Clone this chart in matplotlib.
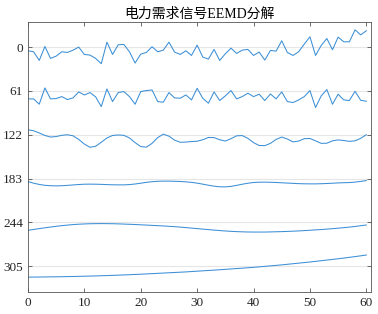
import matplotlib.pyplot as plt
import numpy as np

plt.rcParams['font.family'] = ['Liberation Serif', 'Noto Sans CJK SC']

# time index
t = np.arange(61)

# offsets of each component on the y axis
offsets = [0, 61, 122, 183, 244, 305]

imf1 = [5.1, 6.5, 18.5, -0.9, 15.7, 12.5, 6.5, 7.4, 4.2, 0.0,
        10.2, 11.1, 15.7, 23.1, -6.9, 10.2, -3.2, -3.7, 6.5, 22.2,
        9.7, 7.4, -0.5, 6.5, 4.2, -6.9, 6.9, 10.2, 5.1, 11.6,
        -2.8, 13.9, 16.7, 3.2, 18.5, 9.3, 1.4, 8.8, 4.2, 3.2,
        11.6, 6.9, 18.1, 4.6, 5.6, -8.8, 7.4, 11.6, 6.5, -4.2,
        -14.4, 11.6, -2.3, -12.0, 3.7, -13.9, -7.4, -7.4, -24.1, -17.1,
        -22.7]
imf2 = [11.1, 11.1, 18.5, -4.2, 11.1, 10.6, 7.9, 12.0, 9.7, 1.4,
        5.6, 2.3, 8.3, 21.8, -2.8, 14.8, 2.3, 0.9, 7.9, 18.5,
        0.9, -0.5, -1.4, 14.8, 15.7, 2.3, 9.7, 10.2, 5.6, 12.5,
        -3.7, 10.2, 17.1, 1.4, 13.4, 6.9, -0.5, 11.1, 7.9, 3.2,
        7.9, 4.6, 13.4, 4.2, 11.1, 1.4, 14.8, 16.2, 12.5, 7.9,
        -0.5, 23.1, 6.9, -1.9, 18.5, 4.6, 12.5, 13.4, 0.5, 13.0,
        14.4]
imf3 = [-6.9, -5.5, -2.5, 1.0, 3.2, 2.5, 0.8, 0.0, 1.5, 6.5,
        13.0, 17.5, 16.0, 10.5, 4.5, 1.0, 0.3, 0.8, 4.5, 11.0,
        16.5, 17.3, 12.0, 4.0, -0.8, 2.0, 7.5, 10.5, 10.2, 9.5,
        9.0, 7.0, 3.8, 4.0, 7.0, 8.8, 5.5, 1.5, 1.2, 5.0,
        11.0, 15.0, 15.2, 12.0, 6.5, 3.2, 6.0, 10.0, 8.8, 5.5,
        5.2, 8.5, 12.0, 11.8, 8.5, 7.2, 8.0, 9.2, 8.5, 5.0,
        0.0]
imf4 = [4.2, 6.5, 8.2, 9.4, 10.0, 10.2, 10.0, 9.5, 8.9, 8.3,
        7.9, 7.8, 7.9, 8.1, 8.4, 8.7, 8.8, 8.8, 8.4, 7.6,
        6.5, 5.3, 4.4, 3.8, 3.6, 3.6, 3.8, 4.1, 4.6, 5.3,
        6.4, 7.8, 9.3, 10.6, 11.5, 11.6, 10.9, 9.5, 7.9, 6.5,
        5.5, 5.1, 5.0, 5.2, 5.5, 5.9, 6.3, 6.7, 7.1, 7.3,
        7.4, 7.4, 7.2, 6.9, 6.5, 6.1, 5.8, 5.6, 5.0, 4.0,
        2.8]
imf5 = [11.1, 9.9, 8.7, 7.6, 6.5, 5.5, 4.6, 3.8, 3.1, 2.6,
        2.2, 1.9, 1.8, 1.7, 1.8, 1.9, 2.1, 2.4, 2.7, 3.0,
        3.4, 3.8, 4.2, 4.6, 5.0, 5.5, 6.0, 6.6, 7.3, 8.0,
        8.7, 9.4, 10.1, 10.8, 11.4, 12.0, 12.5, 12.9, 13.2, 13.4,
        13.5, 13.5, 13.5, 13.3, 13.1, 12.9, 12.6, 12.3, 11.9, 11.5,
        11.0, 10.5, 10.0, 9.4, 8.8, 8.1, 7.4, 6.6, 5.7, 4.7,
        3.7]
residue = [15.3, 15.2, 15.1, 15.0, 14.9, 14.8, 14.7, 14.5, 14.4, 14.2,
           14.0, 13.8, 13.6, 13.3, 13.1, 12.8, 12.5, 12.2, 11.9, 11.5,
           11.2, 10.8, 10.4, 10.0, 9.6, 9.2, 8.8, 8.4, 8.0, 7.5,
           7.0, 6.5, 6.0, 5.5, 5.0, 4.4, 3.9, 3.3, 2.8, 2.2,
           1.6, 1.0, 0.3, -0.4, -1.1, -1.8, -2.6, -3.4, -4.2, -5.0,
           -5.8, -6.7, -7.6, -8.5, -9.4, -10.3, -11.3, -12.3, -13.3, -14.4,
           -15.5]

comps = [imf1, imf2, imf3, imf4, imf5, residue]

fig = plt.figure(figsize=(3.78, 3.14), dpi=100)
ax = fig.add_axes([0.074, 0.070, 0.907, 0.860])

for off, c in zip(offsets, comps):
    ax.plot(t, off + np.array(c), color='#3b8fd6', lw=0.75)

ax.set_xlim(0, 60.8)
ax.set_ylim(341, -35)
ax.set_yticks(offsets)
ax.set_xticks(range(0, 61, 10))
ax.yaxis.grid(True, color='#e6e6e6', lw=0.8)
ax.set_axisbelow(True)
ax.tick_params(direction='in', top=True, right=True, length=3,
               labelsize=9.5, colors='#262626', width=0.6)
ax.tick_params(which='both', color='#555555')
for s in ax.spines.values():
    s.set_color('#555555')
    s.set_linewidth(0.6)

ax.set_title('电力需求信号EEMD分解', fontsize=10, pad=3)

fig.savefig('out.png', dpi=100)
